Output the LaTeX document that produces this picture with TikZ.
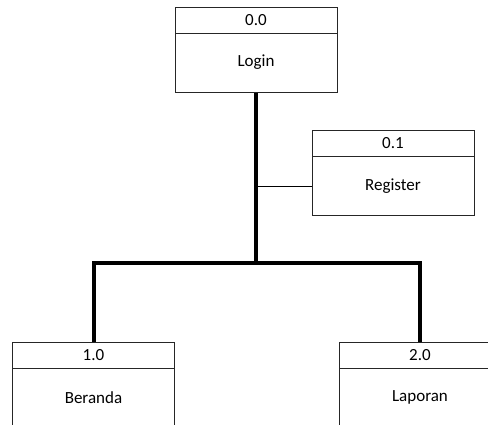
\documentclass[tikz,border=0pt]{standalone}
\usepackage{fontspec}
\setmainfont{Carlito}
\begin{document}
\begin{tikzpicture}[x=1pt,y=-1pt,
  idbox/.style={draw=black!85,line width=1pt,minimum width=162pt,minimum height=26pt,inner sep=0pt,
    font=\fontsize{17}{20}\selectfont},
  namebox/.style={draw=black!85,line width=1pt,minimum width=162pt,minimum height=59pt,inner sep=0pt,
    font=\fontsize{17}{20}\selectfont},
  trunk/.style={line width=4pt},
  branch/.style={line width=1pt}]
\useasboundingbox (0,0) rectangle (488,424);
\clip (0,0) rectangle (488,424);
\fill[white] (0,0) rectangle (488,424);

% top-level process
\node[idbox]   (loginid) at (256,20)   {0.0};
\node[namebox] (login)   at (256,62.5) {Login};

% side process
\node[idbox]   (regid) at (393,143.5) {0.1};
\node[namebox] (reg)   at (393,186)   {Register};

% child processes
\node[idbox]   (berid) at (93.5,355)  {1.0};
\node[namebox] (ber)   at (93.5,397.5) {Beranda};
\node[idbox]   (lapid) at (420,355)  {2.0};
\node[namebox] (lap)   at (420,397.5) {Laporan};

% connectors
\coordinate (split) at (256,263);
\draw[trunk] (login.south) -- (split);
\draw[trunk] (split) -| (berid.north);
\draw[trunk] (split) -| (lapid.north);
\draw[branch] (reg.west) -- (reg.west -| login.south);
\end{tikzpicture}
\end{document}
